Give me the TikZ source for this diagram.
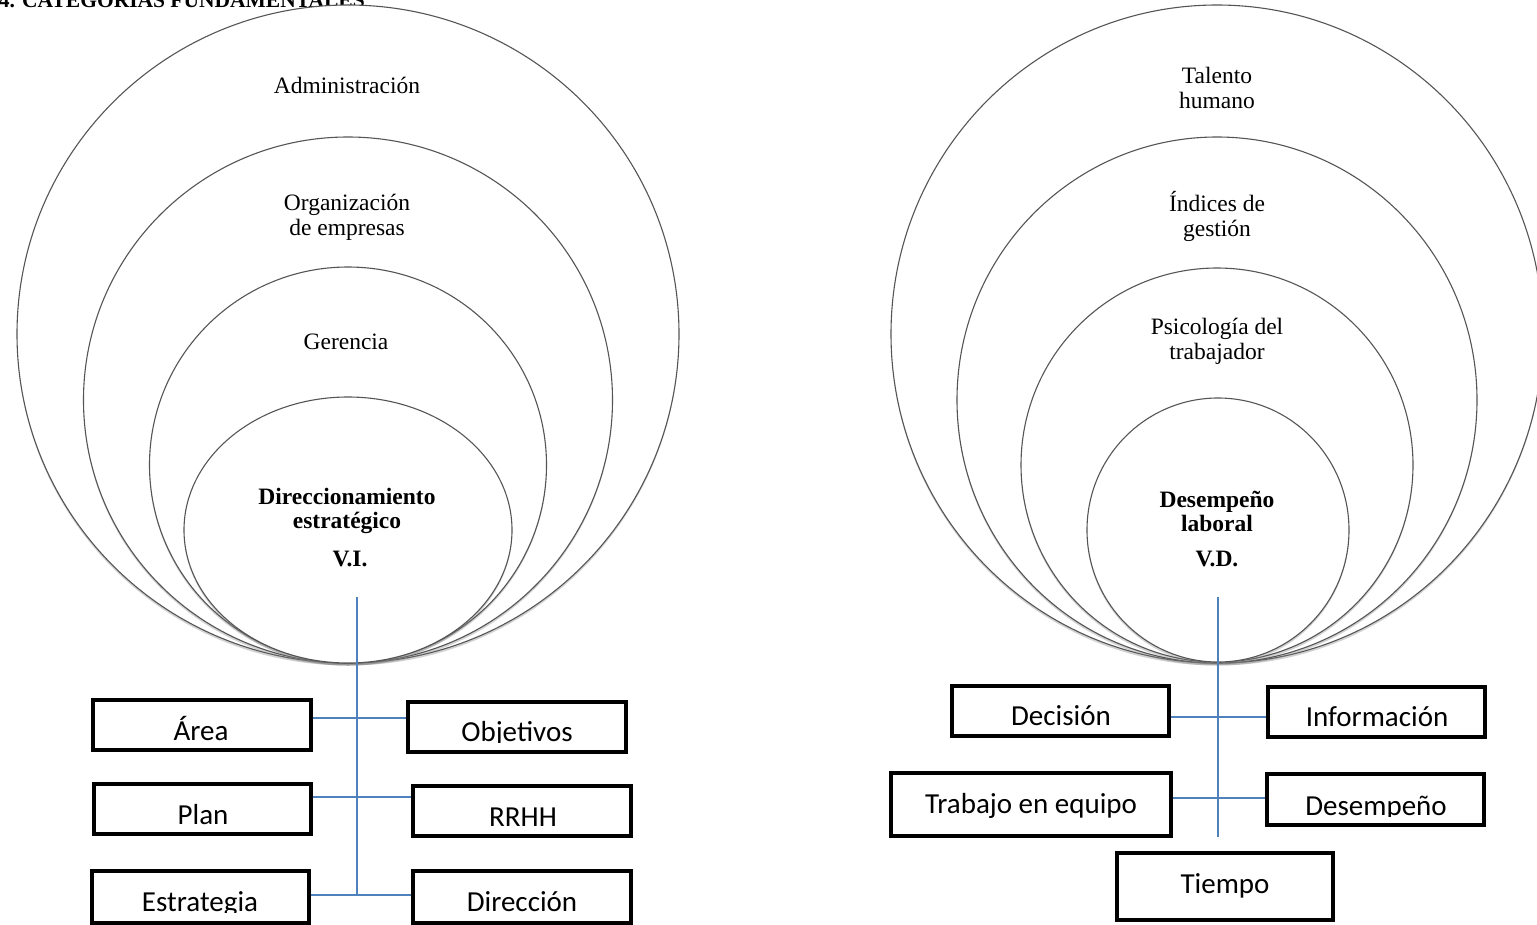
\documentclass[tikz,border=0pt]{standalone}
\usepackage{fontspec}
\setmainfont{Liberation Serif}
\newfontfamily\calib{Carlito}
\usetikzlibrary{shapes.geometric,shadows}
\definecolor{lnblue}{RGB}{79,129,189}
\definecolor{ringgray}{RGB}{85,85,85}
\begin{document}
\begin{tikzpicture}[x=1pt,y=-1pt,
  ring/.style={ellipse, draw=ringgray, line width=1.1pt, fill=white, inner sep=0pt,
    drop shadow={shadow xshift=0pt, shadow yshift=-2.5pt, opacity=0.35}},
  cat/.style={font=\fontsize{23.5}{25}\selectfont, align=center, inner sep=0pt},
  catb/.style={font=\fontsize{23.5}{24}\selectfont\bfseries, align=center, inner sep=0pt},
  box/.style={rectangle, draw=black, line width=4pt, inner sep=0pt, fill=white},
  boxtext/.style={font=\calib\fontsize{29}{30}\selectfont, inner sep=0pt, anchor=base},
  link/.style={draw=lnblue, line width=1.6pt}
]
\clip (0,0) rectangle (1537,924);
\fill[white] (0,0) rectangle (1537,924);

% title (cut by the top edge)
\node[font=\fontsize{21.5}{24}\selectfont\bfseries, inner sep=0pt, anchor=base east] (title) at (365,7) {2.4. CATEGORÍAS FUNDAMENTALES};

% ---------- left group of rings ----------
\node[ring, minimum width=662pt, minimum height=658pt] (la) at (348,334) {};
\node[ring, minimum width=529pt, minimum height=526pt] (lb) at (348,400) {};
\node[ring, minimum width=397pt, minimum height=396pt] (lc) at (348,465) {};
\node[ring, minimum width=328pt, minimum height=266pt] (ld) at (348,530) {};

\node[cat, anchor=base] (ladm) at (347,93) {Administración};
\node[cat] (lorg) at (347,217) {Organización\\de empresas};
\node[cat, anchor=base] (lger) at (346,349) {Gerencia};
\node[catb] (ldir) at (347,511) {Direccionamiento\\estratégico};
\node[catb, anchor=base] (lvi) at (350,566) {V.I.};

% ---------- right group of rings ----------
\node[ring, minimum width=652pt, minimum height=658pt] (ra) at (1217,334) {};
\node[ring, minimum width=520pt, minimum height=526pt] (rb) at (1217,400) {};
\node[ring, minimum width=392pt, minimum height=394pt] (rc) at (1217,465) {};
\node[ring, minimum width=262pt, minimum height=264pt] (rd) at (1218,530) {};

\node[cat] (rtal) at (1217,88) {Talento\\humano};
\node[cat] (rind) at (1217,216) {Índices de\\gestión};
\node[cat] (rpsi) at (1217,341) {Psicología del\\trabajador};
\node[catb] (rdes) at (1217,511) {Desempeño\\laboral};
\node[catb, anchor=base] (rvd) at (1217,566) {V.D.};

% ---------- left boxes ----------
\node[box, minimum width=218pt, minimum height=50pt] (area) at (202,725) {};
\node[box, minimum width=218pt, minimum height=50pt] (obj)  at (517,727) {};
\node[box, minimum width=217pt, minimum height=50pt] (plan) at (202.5,809) {};
\node[box, minimum width=218pt, minimum height=50pt] (rrhh) at (522,811) {};
\node[box, minimum width=217pt, minimum height=52pt] (estr) at (200.5,897) {};
\node[box, minimum width=218pt, minimum height=52pt] (dir)  at (522,897) {};

\coordinate (ltop) at (357,597);
\coordinate (lj1) at (357,718);
\coordinate (lj2) at (357,797);
\coordinate (lbot) at (357,895);
\draw[link] (ltop) -- (lbot);
\draw[link] (area.east |- lj1) -- (obj.west |- lj1);
\draw[link] (plan.east |- lj2) -- (rrhh.west |- lj2);
\draw[link] (estr.east |- lbot) -- (dir.west |- lbot);

\node[boxtext] (tarea) at (201,740) {Área};
\begin{scope}
  \clip (408,700) rectangle (626,742.5);
  \node[boxtext] (tobj) at (517,741) {Objetivos};
\end{scope}
\node[boxtext] (tplan) at (203,824) {Plan};
\node[boxtext] (trrhh) at (523,826) {RRHH};
\begin{scope}
  \clip (92,871) rectangle (309,912.5);
  \node[boxtext] (testr) at (200,911) {Estrategia};
\end{scope}
\node[boxtext] (tdir) at (522,911) {Dirección};

% ---------- right boxes ----------
\node[box, minimum width=217pt, minimum height=50pt] (dec)  at (1060.5,711) {};
\node[box, minimum width=217pt, minimum height=50pt] (inf)  at (1376.5,712) {};
\node[box, minimum width=280pt, minimum height=63pt] (trab) at (1031,804.5) {};
\node[box, minimum width=217pt, minimum height=51pt] (desp) at (1375.5,799.5) {};
\node[box, minimum width=216pt, minimum height=67pt] (tiem) at (1225,886.5) {};

\coordinate (rtop) at (1218,597);
\coordinate (rj1) at (1218,717);
\coordinate (rj2) at (1218,798);
\coordinate (rbot) at (1218,837);
\draw[link] (rtop) -- (rbot);
\draw[link] (dec.east |- rj1) -- (inf.west |- rj1);
\draw[link] (trab.east |- rj2) -- (desp.west |- rj2);

\node[boxtext] (tdec) at (1061,725) {Decisión};
\node[boxtext] (tinf) at (1377,726) {Información};
\node[boxtext] (ttrab) at (1031,813) {Trabajo en equipo};
\begin{scope}
  \clip (1267,774) rectangle (1484,816.5);
  \node[boxtext] (tdesp) at (1376,815) {Desempeño};
\end{scope}
\node[boxtext] (ttiem) at (1225,893) {Tiempo};
\end{tikzpicture}
\end{document}
